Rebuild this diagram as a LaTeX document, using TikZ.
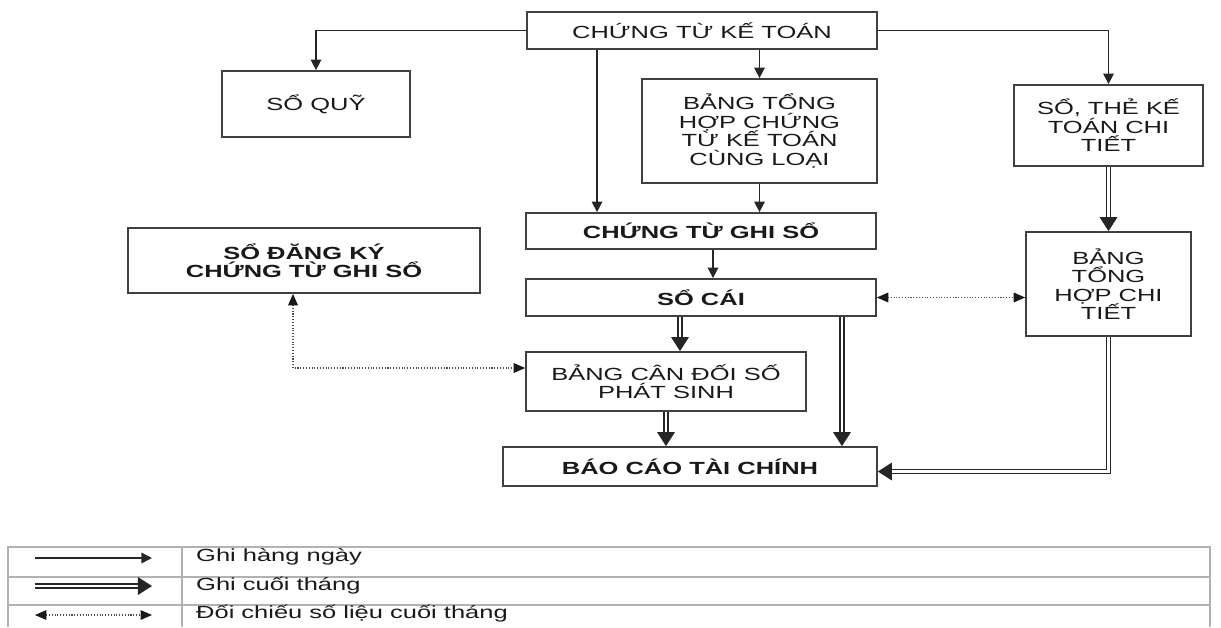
\documentclass[tikz,border=0pt]{standalone}
\usepackage{fontspec}
\setmainfont{Liberation Sans}[FakeStretch=1.45]
\usetikzlibrary{arrows.meta}

\begin{document}
\begin{tikzpicture}[
        x=0.02cm,
        y=-0.02cm,
        every node/.style={font=\fontsize{10}{10.5}\selectfont,text=black!90},
        book/.style={draw=black!75,line width=1pt,align=center,inner sep=2pt},
        bold book/.style={book,font=\fontsize{10}{10.5}\selectfont\bfseries},
        daily/.style={black!85,line width=0.8pt,-{Triangle[length=6pt,width=6pt]}},
        monthly/.style={black!85,line width=0.95pt,double,double distance=1.2pt,-{Triangle[length=8pt,width=10pt]}},
        check/.style={black!70,line width=0.6pt,densely dotted,
            {Triangle[length=6.5pt,width=5.5pt,color=black!90]}-{Triangle[length=6.5pt,width=5.5pt,color=black!90]}},
        table line/.style={black!30,line width=0.9pt}
    ]
        \useasboundingbox (0,0) rectangle (1221,627);

        \node[book,minimum width=7cm,minimum height=0.74cm] (ctkt) at (702,30.5) {CHỨNG TỪ KẾ TOÁN};
        \node[book,minimum width=3.76cm,minimum height=1.32cm] (soquy) at (316,104) {SỔ QUỸ};
        \node[book,minimum width=4.7cm,minimum height=2.08cm] (bthct) at (759.5,131) {BẢNG TỔNG\\HỢP CHỨNG\\TỪ KẾ TOÁN\\CÙNG LOẠI};
        \node[book,minimum width=3.78cm,minimum height=1.62cm] (sothe) at (1108.5,125.5) {SỔ, THẺ KẾ\\TOÁN CHI\\TIẾT};
        \node[book,minimum width=3.3cm,minimum height=2.08cm] (bthchitiet) at (1108.5,284) {BẢNG\\TỔNG\\HỢP CHI\\TIẾT};
        \node[bold book,minimum width=7cm,minimum height=0.72cm] (ctgs) at (701,231) {CHỨNG TỪ GHI SỔ};
        \node[bold book,minimum width=7cm,minimum height=0.74cm] (socai) at (701,297.5) {SỔ CÁI};
        \node[book,minimum width=5.6cm,minimum height=1.18cm] (bcdps) at (666,381.5) {BẢNG CÂN ĐỐI SỐ\\PHÁT SINH};
        \node[bold book,minimum width=7.48cm,minimum height=0.78cm] (bctc) at (690,466.5) {BÁO CÁO TÀI CHÍNH};
        \node[bold book,minimum width=7.04cm,minimum height=1.3cm] (sodk) at (304,260.5) {SỔ ĐĂNG KÝ\\CHỨNG TỪ GHI SỔ};

        \coordinate (ctktleft) at ([xshift=-2.1cm]ctkt.south);
        \coordinate (ctgsout) at ([xshift=0.24cm]ctgs.south);
        \coordinate (bcdpsin) at ([xshift=0.28cm]bcdps.north);
        \coordinate (socaiout) at ([xshift=2.82cm]socai.south);

        \draw[daily] (ctkt.west) -| (soquy.north);
        \draw[daily] (ctkt.east) -| (sothe.north);
        \draw[daily] (ctktleft) -- (ctktleft |- ctgs.north);
        \draw[daily] (bthct.north |- ctkt.south) -- (bthct.north);
        \draw[daily] (bthct.south) -- (bthct.south |- ctgs.north);
        \draw[daily] (ctgsout) -- (ctgsout |- socai.north);

        \draw[monthly] (bcdpsin |- socai.south) -- (bcdpsin);
        \draw[monthly] (socaiout) -- (socaiout |- bctc.north);
        \draw[monthly] (bcdps.south) -- (bcdps.south |- bctc.north);
        \draw[monthly] (sothe.south) -- (bthchitiet.north);
        \draw[monthly] (bthchitiet.south) |- ([yshift=-0.1cm]bctc.east);

        \draw[check] (socai.east) -- (socai.east -| bthchitiet.west);
        \draw[check] ([xshift=-0.22cm]sodk.south) |- ([yshift=0.27cm]bcdps.west);

        \draw[table line] (8,627) |- (1210,547) -- (1210,627);
        \draw[table line] (8,577) -- (1210,577);
        \draw[table line] (8,605) -- (1210,605);
        \draw[table line] (182,547) -- (182,627);

        \foreach \row/\y in {a/558,b/586,c/615} {
            \coordinate (key-\row-s) at (35,\y);
            \coordinate (key-\row-e) at (152,\y);
        }
        \draw[daily] (key-a-s) -- (key-a-e);
        \draw[monthly] (key-b-s) -- (key-b-e);
        \draw[check] (key-c-s) -- (key-c-e);

        \node[anchor=west] (daily key) at (190,557) {Ghi hàng ngày};
        \node[anchor=west] (monthly key) at (190,586) {Ghi cuối tháng};
        \node[anchor=west] (check key) at (190,614) {Đối chiếu số liệu cuối tháng};
    \end{tikzpicture}
\end{document}
